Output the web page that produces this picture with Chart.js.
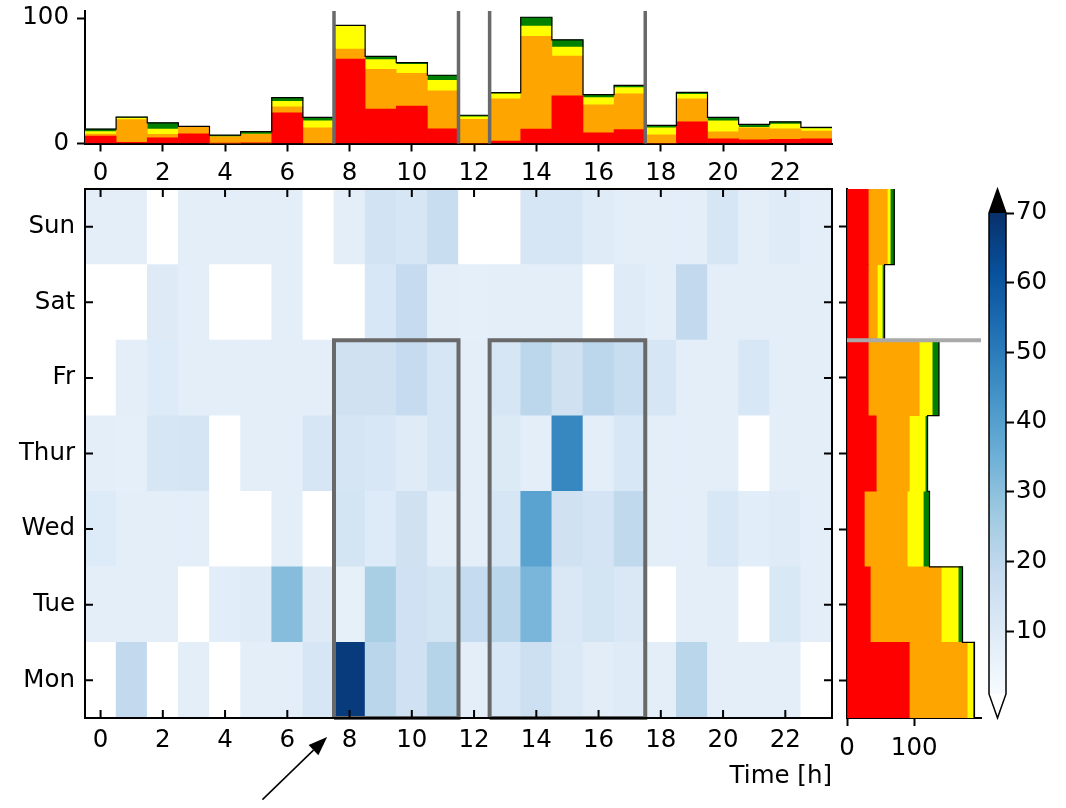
<!DOCTYPE html>
<html>
<head>
<meta charset="utf-8">
<script src="https://cdn.jsdelivr.net/npm/chart.js@4.4.1/dist/chart.umd.min.js"></script>
<style>
  body { margin: 0; background: #fff; }
  #fig { position: relative; width: 1066px; height: 808px; }
  #fig canvas { position: absolute; left: 0; top: 0; }
</style>
</head>
<body>
<div id="fig">
  <canvas id="heat" width="1066" height="808"></canvas>
  <canvas id="hist" width="1066" height="808"></canvas>
  <canvas id="side" width="1066" height="808"></canvas>
  <canvas id="cbar" width="1066" height="808"></canvas>
</div>
<script>
// ---- data ----
const hours = [0, 1, 2, 3, 4, 5, 6, 7, 8, 9, 10, 11, 12, 13, 14, 15, 16, 17, 18, 19, 20, 21, 22, 23];
const hourTicks = [0, 2, 4, 6, 8, 10, 12, 14, 16, 18, 20, 22];
const days = ['Mon', 'Tue', 'Wed', 'Thur', 'Fr', 'Sat', 'Sun'];
const dayIdx = [0, 1, 2, 3, 4, 5, 6];

// top panel: counts per hour, stacked by class
const hourRed    = [6, 1, 4.6, 7.8, 0.3, 0.5, 24.4, 0, 67.3, 27.4, 29.8, 11.7, 0, 2, 11.5, 38, 8.6, 11, 0, 17.3, 3.8, 3, 3.3, 3.8];
const hourOrange = [1.5, 18, 2.7, 5, 5, 6.8, 4.8, 12.5, 8, 31.7, 26.2, 30.2, 19.2, 33.6, 74, 31.7, 22.2, 28.5, 7, 18.3, 5.6, 9.5, 8.4, 6.1];
const hourYellow = [2, 1.5, 4.2, 0.3, 0, 0.3, 4.5, 5.6, 18, 7.7, 7.1, 8.5, 2, 4, 8, 7.1, 5.8, 5, 5.5, 3.5, 8.7, 0.3, 3.7, 1.9];
const hourGreen  = [2, 0.5, 5, 0.5, 1.3, 1.8, 2.9, 2.7, 0.8, 2.6, 1.3, 4, 1.3, 1, 7.1, 5.8, 2.4, 1.8, 1.9, 1.6, 2.7, 2.4, 1.9, 1];

// right panel: counts per day (Mon..Sun), stacked by class
const dayRed    = [92.6, 34.6, 25.7, 43.5, 31.6, 31.6, 31.6];
const dayOrange = [86.2, 105.5, 63.9, 49.1, 75.8, 13.4, 28.3];
const dayYellow = [8.4, 25.3, 23.8, 23.7, 19.3, 7.5, 4.4];
const dayGreen  = [2.4, 6.4, 9.3, 3.5, 10.0, 3.4, 6.0];

// heat map, one row per day, one value per hour (0 = empty)
const heatMon  = [0, 19, 0, 8, 0, 8, 8, 12.5, 67, 21, 15, 22, 8, 12, 15.7, 10.7, 8.3, 9.3, 8, 21, 8, 8, 8, 0];
const heatTue  = [8, 8, 8, 0, 8.6, 9.3, 31, 9.6, 7, 24.5, 15, 13.6, 18.5, 21, 33, 11.1, 13.6, 11.1, 0, 8, 8, 0, 11.4, 8];
const heatWed  = [10, 8, 8, 8, 0, 0, 8, 0, 13.6, 10, 14.7, 8, 8, 12.1, 39, 14.7, 13.2, 19.3, 8, 8, 11.8, 8.6, 9.3, 8];
const heatThur = [8, 7.2, 12.1, 12.8, 0, 8, 8, 12.5, 13, 12, 9.3, 12.3, 8, 10.3, 8, 47, 8, 12, 8, 8, 8, 0, 8, 8];
const heatFr   = [0, 8, 10, 8, 8, 8, 8, 8, 14.7, 14.7, 18.3, 12.5, 8, 12.1, 20.4, 14.7, 20.4, 17.2, 12.1, 8, 8, 11.8, 8, 8];
const heatSat  = [0, 0, 9.6, 8, 0, 0, 8, 0, 0, 11.8, 18.3, 8, 7.5, 8, 8, 8, 0, 9.3, 8, 18.9, 8, 8, 8, 8];
const heatSun  = [8, 8, 0, 8, 8, 8, 8, 0, 8, 14, 12.5, 17.2, 0, 0, 12.1, 12.5, 9.3, 8, 8, 8, 12.1, 8, 9.3, 8];
const heatRows = [heatMon, heatTue, heatWed, heatThur, heatFr, heatSat, heatSun];

const vMin = 1, vMax = 70;
const cbarTicks = [10, 20, 30, 40, 50, 60, 70];

// marked time windows (Mon..Fr)
const boxFrom = [7.5, 12.5];
const boxTo = [11.5, 17.5];
const boxTopDay = 4.5;
const topMax = 105.6;
const sideMax = 199.3;
const arrowFrom = { x: 5.2, y: -1.58 };
const arrowTo = { x: 7.28, y: -0.75 };

const classColors = ['#ff0000', '#ffa500', '#ffff00', '#008000'];
const markGray = '#696969';

// ---- helpers ----
const bluesStops = [[247,251,255],[222,235,247],[198,219,239],[158,202,225],[107,174,214],[66,146,198],[33,113,181],[8,81,156],[8,48,107]];
function blues(t) {
  const p = Math.min(Math.max(t, 0), 1) * (bluesStops.length - 1);
  const i = Math.min(Math.floor(p), bluesStops.length - 2);
  const f = p - i;
  const c = bluesStops[i].map((v, k) => Math.round(v + (bluesStops[i + 1][k] - v) * f));
  return 'rgb(' + c.join(',') + ')';
}
function cellColor(v) {
  if (v < vMin) return '#ffffff';
  if (v > vMax) return '#000000';
  return blues((v - vMin) / (vMax - vMin));
}
function fixBox(w, h) {
  return function (scale) {
    if (w != null) scale.width = w;
    if (h != null) scale.height = h;
    scale.paddingLeft = scale.paddingRight = scale.paddingTop = scale.paddingBottom = 0;
  };
}
function setTicks(values) {
  return function (scale) { scale.ticks = values.map(v => ({ value: v })); };
}

Chart.defaults.font.family = "'DejaVu Sans', sans-serif";
Chart.defaults.font.size = 24.5;
Chart.defaults.color = '#000';
Chart.defaults.animation = false;
Chart.defaults.events = [];
Chart.defaults.responsive = false;
Chart.defaults.plugins.legend.display = false;
Chart.defaults.plugins.tooltip.enabled = false;

const axisLine = { display: true, color: '#000', width: 2 };
const outTicks = { drawOnChartArea: false, drawTicks: true, tickLength: 8, tickWidth: 2, tickColor: '#000', offset: false };
const noGrid = { display: false, drawTicks: false, offset: false };

// frame, inward ticks and the arrow of the heat map
const heatFrame = {
  id: 'heatFrame',
  afterDraw(chart) {
    const { ctx, chartArea: a, scales: { x, y } } = chart;
    ctx.save();
    ctx.strokeStyle = '#000';
    ctx.lineWidth = 2;
    ctx.beginPath();
    hourTicks.forEach(h => {
      const px = x.getPixelForValue(h);
      ctx.moveTo(px, a.bottom); ctx.lineTo(px, a.bottom - 8);
      ctx.moveTo(px, a.top); ctx.lineTo(px, a.top + 8);
    });
    dayIdx.forEach(d => {
      const py = y.getPixelForValue(d);
      ctx.moveTo(a.left, py); ctx.lineTo(a.left + 8, py);
      ctx.moveTo(a.right, py); ctx.lineTo(a.right - 8, py);
    });
    ctx.stroke();
    ctx.strokeRect(a.left, a.top, a.right - a.left, a.bottom - a.top);

    const x0 = x.getPixelForValue(arrowFrom.x), y0 = y.getPixelForValue(arrowFrom.y);
    const x1 = x.getPixelForValue(arrowTo.x), y1 = y.getPixelForValue(arrowTo.y);
    const ang = Math.atan2(y1 - y0, x1 - x0);
    const hl = 19, hw = 7;
    const bx = x1 - hl * Math.cos(ang), by = y1 - hl * Math.sin(ang);
    ctx.lineWidth = 1.5;
    ctx.beginPath(); ctx.moveTo(x0, y0); ctx.lineTo(bx, by); ctx.stroke();
    ctx.fillStyle = '#000';
    ctx.beginPath();
    ctx.moveTo(x1, y1);
    ctx.lineTo(bx + hw * Math.sin(ang), by - hw * Math.cos(ang));
    ctx.lineTo(bx - hw * Math.sin(ang), by + hw * Math.cos(ang));
    ctx.closePath(); ctx.fill();
    ctx.restore();
  }
};

// heat map
new Chart(document.getElementById('heat'), {
  type: 'bar',
  data: {
    labels: hours,
    datasets: [
      ...boxFrom.map((x0, i) => ({
        type: 'line',
        data: [{ x: x0, y: -0.5 }, { x: x0, y: boxTopDay }, { x: boxTo[i], y: boxTopDay }, { x: boxTo[i], y: -0.5 }, { x: x0, y: -0.5 }],
        borderColor: markGray, borderWidth: 4, pointRadius: 0, clip: false, order: 0
      })),
      ...heatRows.map((row, d) => ({
        data: row.map(() => [d - 0.5, d + 0.5]),
        backgroundColor: row.map(cellColor),
        borderWidth: 0, barPercentage: 1, categoryPercentage: 1, order: 1
      }))
    ]
  },
  options: {
    layout: { padding: { left: 5, right: 234, top: 189, bottom: 10 } },
    scales: {
      x: {
        type: 'linear', min: -0.5, max: 23.5, offset: false, stacked: true,
        grid: noGrid, border: { display: false },
        afterBuildTicks: setTicks(hourTicks), afterFit: fixBox(null, 80),
        ticks: { padding: 8, maxRotation: 0 },
        title: { display: true, text: 'Time [h]', align: 'end', padding: { top: 0, bottom: 7 } }
      },
      y: {
        type: 'linear', min: -0.5, max: 6.5,
        grid: noGrid, border: { display: false },
        afterBuildTicks: setTicks(dayIdx), afterFit: fixBox(80, null),
        ticks: { padding: 10, callback: v => days[v] }
      }
    }
  },
  plugins: [heatFrame]
});

// top: stacked counts per hour
const hourSeries = [hourRed, hourOrange, hourYellow, hourGreen];
const hourTotal = hours.map((h, i) => hourSeries.reduce((s, a) => s + a[i], 0));
const hourEdges = hours.map(h => h - 0.5).concat(hours[hours.length - 1] + 0.5);
const hourOutline = hourEdges.map((e, i) => ({ x: e, y: hourTotal[Math.min(i, hours.length - 1)] }));
const markEdges = boxFrom.concat(boxTo);

new Chart(document.getElementById('hist'), {
  type: 'bar',
  data: {
    labels: hours,
    datasets: [
      ...markEdges.map((v, i) => ({
        type: 'line', data: [{ x: v, y: 0 }, { x: v, y: topMax }],
        borderColor: markGray, borderWidth: 3.5, pointRadius: 0, clip: false, stack: 'mark' + i, order: 0
      })),
      { type: 'line', data: hourOutline, stepped: 'before', borderColor: '#000', borderWidth: 1.2,
        pointRadius: 0, clip: false, stack: 'outline', order: 1 },
      ...hourSeries.map((s, k) => ({
        data: s, backgroundColor: classColors[k], borderWidth: 0,
        barPercentage: 1, categoryPercentage: 1, stack: 'hist', order: 2
      }))
    ]
  },
  options: {
    layout: { padding: { left: 5, right: 234, top: 11, bottom: 614.5 } },
    scales: {
      x: {
        type: 'linear', min: -0.5, max: 23.5, offset: false, stacked: true,
        grid: outTicks, border: axisLine,
        afterBuildTicks: setTicks(hourTicks), afterFit: fixBox(null, 50),
        ticks: { padding: 7, maxRotation: 0 }
      },
      y: {
        type: 'linear', min: 0, max: topMax, stacked: true,
        grid: outTicks, border: axisLine,
        afterBuildTicks: setTicks([0, 100]), afterFit: fixBox(80, null),
        ticks: { padding: 8 }
      }
    }
  }
});

// right: stacked counts per day
const daySeries = [dayRed, dayOrange, dayYellow, dayGreen];
const dayTotal = dayIdx.map(i => daySeries.reduce((s, a) => s + a[i], 0));
const dayEdges = dayIdx.map(d => d - 0.5).concat(dayIdx[dayIdx.length - 1] + 0.5);
const dayOutline = dayEdges.map((e, i) => ({ x: dayTotal[Math.min(i, dayIdx.length - 1)], y: e }));

new Chart(document.getElementById('side'), {
  type: 'bar',
  data: {
    labels: dayIdx,
    datasets: [
      { type: 'line', data: [{ x: 0, y: boxTopDay }, { x: sideMax, y: boxTopDay }],
        borderColor: '#a9a9a9', borderWidth: 4, pointRadius: 0, clip: false, stack: 'mark', order: 0 },
      { type: 'line', data: dayOutline, stepped: 'after', borderColor: '#000', borderWidth: 1.2,
        pointRadius: 0, clip: false, stack: 'outline', order: 1 },
      ...daySeries.map((s, k) => ({
        data: s, backgroundColor: classColors[k], borderWidth: 0,
        barPercentage: 1, categoryPercentage: 1, stack: 'days', order: 2
      }))
    ]
  },
  options: {
    indexAxis: 'y',
    layout: { padding: { left: 807, right: 85, top: 189, bottom: 40 } },
    scales: {
      x: {
        type: 'linear', min: 0, max: sideMax, stacked: true, position: 'bottom',
        grid: outTicks, border: axisLine,
        afterBuildTicks: setTicks([0, 100]), afterFit: fixBox(null, 50),
        ticks: { padding: 8, maxRotation: 0 }
      },
      y: {
        type: 'linear', min: -0.5, max: 6.5, offset: false, stacked: true, position: 'left',
        grid: outTicks, border: axisLine,
        afterBuildTicks: setTicks(dayIdx), afterFit: fixBox(40, null),
        ticks: { display: false }
      }
    }
  }
});

// colour bar with extend triangles
const ext = 0.05 * (vMax - vMin);
const cbarEnds = {
  id: 'cbarEnds',
  afterDatasetsDraw(chart) {
    const { ctx, chartArea: a, scales: { y } } = chart;
    const top = y.getPixelForValue(vMax), bot = y.getPixelForValue(vMin);
    const tipTop = y.getPixelForValue(vMax + ext), tipBot = y.getPixelForValue(vMin - ext);
    const mid = (a.left + a.right) / 2;
    ctx.save();
    ctx.fillStyle = '#000';
    ctx.beginPath(); ctx.moveTo(a.left, top); ctx.lineTo(mid, tipTop); ctx.lineTo(a.right, top); ctx.closePath(); ctx.fill();
    ctx.fillStyle = '#fff';
    ctx.beginPath(); ctx.moveTo(a.left, bot); ctx.lineTo(mid, tipBot); ctx.lineTo(a.right, bot); ctx.closePath(); ctx.fill();
    ctx.strokeStyle = '#000';
    ctx.lineWidth = 1.5;
    ctx.beginPath();
    ctx.moveTo(a.left, top); ctx.lineTo(mid, tipTop); ctx.lineTo(a.right, top);
    ctx.lineTo(a.right, bot); ctx.lineTo(mid, tipBot); ctx.lineTo(a.left, bot);
    ctx.closePath(); ctx.stroke();
    ctx.restore();
  }
};

new Chart(document.getElementById('cbar'), {
  type: 'bar',
  data: {
    labels: [''],
    datasets: [{
      data: [[vMin, vMax]],
      backgroundColor(c) {
        const chart = c.chart;
        if (!chart.chartArea) return '#fff';
        const y = chart.scales.y;
        const g = chart.ctx.createLinearGradient(0, y.getPixelForValue(vMin), 0, y.getPixelForValue(vMax));
        bluesStops.forEach((s, i) => g.addColorStop(i / (bluesStops.length - 1), 'rgb(' + s.join(',') + ')'));
        return g;
      },
      borderWidth: 0, barPercentage: 1, categoryPercentage: 1, inflateAmount: 0
    }]
  },
  options: {
    layout: { padding: { left: 989, right: 0, top: 189, bottom: 90 } },
    scales: {
      x: { display: false },
      y: {
        type: 'linear', position: 'right', min: vMin - ext, max: vMax + ext,
        grid: outTicks, border: { display: false },
        afterBuildTicks: setTicks(cbarTicks), afterFit: fixBox(60, null),
        ticks: { padding: 2 }
      }
    }
  },
  plugins: [cbarEnds]
});
</script>
</body>
</html>
